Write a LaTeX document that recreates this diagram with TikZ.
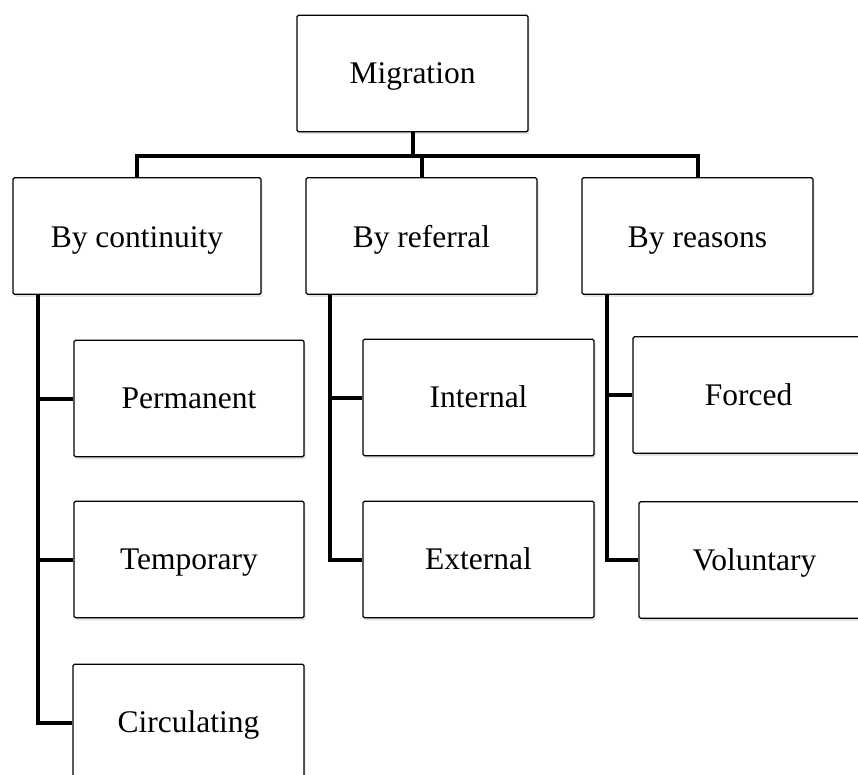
\documentclass[tikz,border=0pt]{standalone}
\usepackage{fontspec}
\setmainfont{Liberation Serif}
\usetikzlibrary{shadows}
\begin{document}
\begin{tikzpicture}[x=1pt,y=-1pt,
  box/.style={draw=black, line width=1.3pt, fill=white, rounded corners=1.5pt,
    minimum height=116.5pt, inner sep=0pt, text height=20pt, text depth=0pt,
    font=\fontsize{31.5}{37}\selectfont,
    drop shadow={opacity=0.22, shadow xshift=1.5pt, shadow yshift=-2.5pt}},
  rowtwo/.style={text height=23.5pt},
  conn/.style={draw=black, line width=4pt}]
\useasboundingbox (0,0) rectangle (858,775);
\begin{scope}
\clip (0,0) rectangle (858,775);
\node[box, minimum width=231pt] (mig) at (412.5,73.5) {Migration};
\node[box, rowtwo, minimum width=248pt] (cont) at (137,236) {By continuity};
\node[box, rowtwo, minimum width=231pt] (ref) at (421.5,236) {By referral};
\node[box, rowtwo, minimum width=231pt] (reas) at (697.5,236) {By reasons};
\node[box, minimum width=230pt] (perm) at (189,398.5) {Permanent};
\node[box, minimum width=230pt] (temp) at (189,559.5) {Temporary};
\node[box, minimum width=231pt] (circ) at (188.5,722.5) {Circulating};
\node[box, minimum width=231pt] (int) at (478.5,397.5) {Internal};
\node[box, minimum width=231pt] (ext) at (478.5,559.5) {External};
\node[box, minimum width=231pt] (forced) at (748.5,395) {Forced};
\node[box, minimum width=231pt] (vol) at (754.5,560) {Voluntary};

\coordinate (bus) at (0,156);
\coordinate (cx) at (38,294);
\coordinate (rx) at (330,294);
\coordinate (sx) at (607,294);

\draw[conn] (mig.south) -- (mig.south |- bus);
\draw[conn] (cont.north) -- (cont.north |- bus) -- (reas.north |- bus) -- (reas.north);
\draw[conn] (ref.north) -- (ref.north |- bus);

\draw[conn] (cx) |- (circ.west);
\draw[conn] (cx |- perm.west) -- (perm.west);
\draw[conn] (cx |- temp.west) -- (temp.west);

\draw[conn] (rx) |- (ext.west);
\draw[conn] (rx |- int.west) -- (int.west);

\draw[conn] (sx) |- (vol.west);
\draw[conn] (sx |- forced.west) -- (forced.west);
\end{scope}
\end{tikzpicture}
\end{document}
